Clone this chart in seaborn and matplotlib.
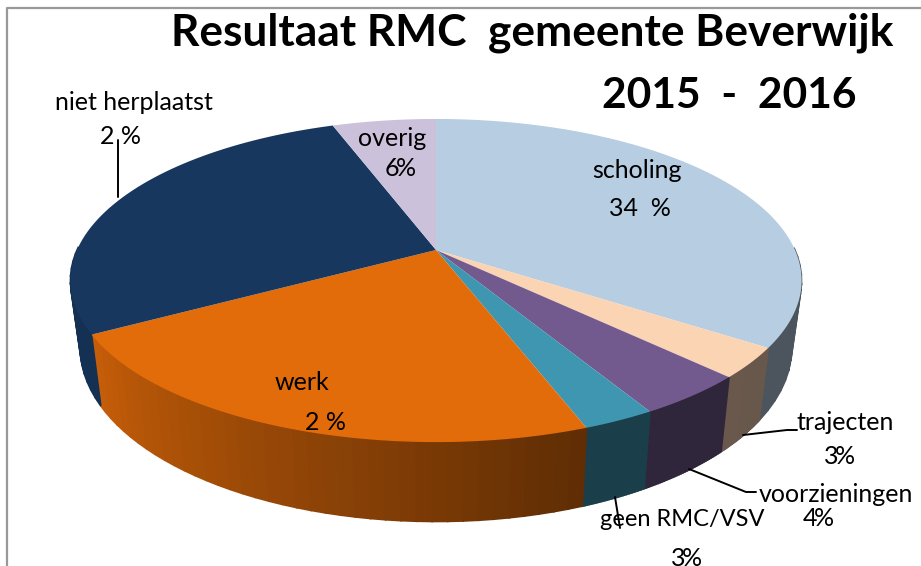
import matplotlib
matplotlib.use("Agg")
import matplotlib.pyplot as plt
from matplotlib.path import Path
from matplotlib.transforms import Affine2D, Transform
import numpy as np
import seaborn as sns

categories = ["scholing", "trajecten", "voorzieningen", "geen RMC/VSV", "werk", "niet herplaatst", "overig"]
shares = [34.5, 3.0, 4.2, 2.7, 22.4, 27.7, 5.5]
top_colors = ["#b7cde2", "#fbd4b4", "#725a8e", "#3e96b0", "#e26b0a", "#17375e", "#ccc1da"]

# opschrift zoals het in de grafiek staat
title_line1 = "Resultaat RMC  gemeente Beverwijk"
title_line2 = "2015  -  2016"

sns.set_theme(style="white")
plt.rcParams["font.family"] = ["Lato", "DejaVu Sans"]

# projectie van de cirkel naar het schuine bovenvlak
CX, CY = 436, 250
A, B, K = 359, 155.8, 0.189


class Tilt(Transform):
    input_dims = output_dims = 2

    def transform_non_affine(self, values):
        values = np.asarray(values)
        w = 1 + K * values[:, 1]
        return np.column_stack([CX + A * values[:, 0] / w, CY - B * values[:, 1] / w])

    def transform_path_non_affine(self, path):
        # eerst bogen plat maken (op grote schaal, anders wordt het te grof)
        polys = path.to_polygons(Affine2D().scale(2000), closed_only=True)
        return Path(self.transform_non_affine(polys[0] / 2000))


def lower_edge(points):
    # onderrand van de zijkant
    return np.column_stack([CX + 0.973 * (points[:, 0] - CX), CY + 1.075 * (points[:, 1] - CY) + 65])


def side_shade(clock_angle):
    return np.interp(clock_angle, [0, 160, 240, 360], [0.40, 0.42, 0.88, 0.88])


fig = plt.figure(figsize=(9.21, 5.66), dpi=100)
ax = fig.add_axes([0, 0, 1, 1])
palette = sns.color_palette(top_colors)
wedges, _ = ax.pie(shares, colors=palette, startangle=90, counterclock=False, wedgeprops={"linewidth": 0})

tilt = Tilt()
for wedge, color in zip(wedges, palette):
    wedge.set_transform(tilt + ax.transData)
    wedge.set_zorder(3)
    # zijkant in smalle reepjes voor het kleurverloop
    angles = np.linspace(wedge.theta1, wedge.theta2, 40)
    for a0, a1 in zip(angles[:-1], angles[1:]):
        pair = np.radians([a0, a1])
        # achterkant is niet zichtbaar
        if np.sin(pair).min() > 0:
            continue
        upper = tilt.transform_non_affine(np.column_stack([np.cos(pair), np.sin(pair)]))
        lower = lower_edge(upper)
        clock = (90 - (a0 + a1) / 2) % 360
        shade = np.array(color) * side_shade(clock)
        ax.fill(np.r_[upper[:, 0], lower[::-1, 0]], np.r_[upper[:, 1], lower[::-1, 1]],
                color=shade, linewidth=1.2, zorder=2)

ax.set_aspect("auto")
ax.set_xlim(0, 921)
ax.set_ylim(566, 0)
ax.axis("off")

# kader van de grafiek
ax.plot([7, 7, 921], [566, 8, 8], color="#999999", lw=1.6, zorder=1)

# aanwijslijnen
ax.plot([118, 118], [140, 197], color="black", lw=1.4, zorder=4)
ax.plot([743, 787, 797], [435, 430, 430], color="black", lw=1.4, zorder=4)
ax.plot([689, 746, 756], [469, 492, 492], color="black", lw=1.4, zorder=4)
ax.plot([615, 620], [497, 528], color="black", lw=1.4, zorder=4)

ax.text(532, 33, title_line1, fontsize=31.9, fontweight="bold", ha="center", va="center", color="black", zorder=5)
ax.text(729, 96, title_line2, fontsize=30.6, fontweight="bold", ha="center", va="center", color="black", zorder=5)

label_size = 18
for name, x, y, size in [("niet herplaatst", 134, 102, 18), ("overig", 392, 138, 18), ("scholing", 637, 171, 18),
                         ("werk", 302, 382, 18), ("trajecten", 845, 423, 18), ("voorzieningen", 836, 495, 18),
                         ("geen RMC/VSV", 682, 519, 17), ("2 %", 120, 137, 18), ("34  %", 640, 208, 18),
                         ("2 %", 325, 422, 18)]:
    ax.text(x, y, name, fontsize=size, ha="center", va="center", color="black", zorder=5)

# cijfer en procentteken lopen in het origineel over elkaar
for digit, x, y in [("6", 400, 169), ("3", 839, 457), ("4", 818, 519), ("3", 686, 558)]:
    ax.text(x - 1, y, digit, fontsize=label_size, ha="right", va="center", color="black", zorder=5)
    ax.text(x - 4, y, "%", fontsize=label_size, ha="left", va="center", color="black", zorder=5)

fig.savefig("out.png", dpi=100)
